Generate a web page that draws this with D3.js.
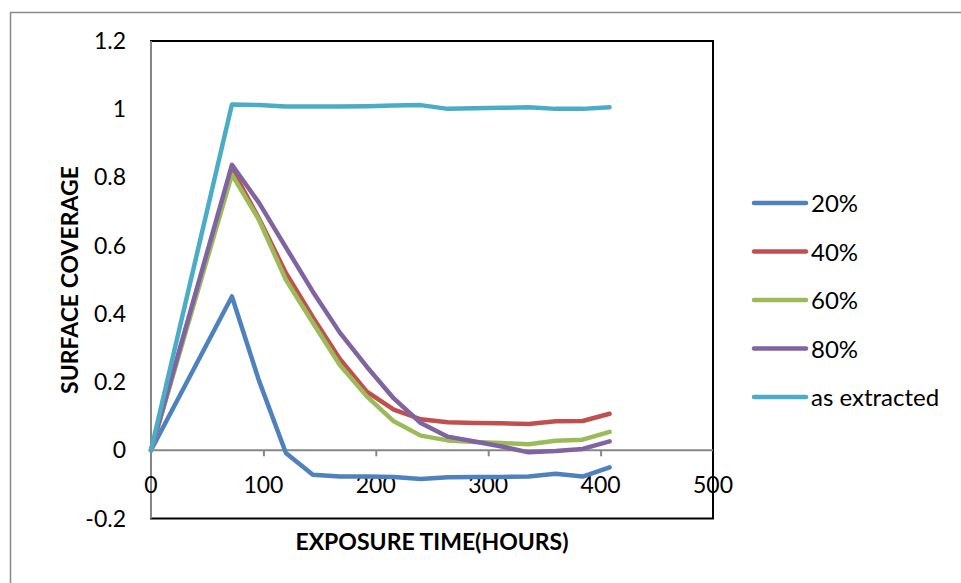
<!DOCTYPE html>
<html>
<head>
<meta charset="utf-8">
<script src="https://cdn.jsdelivr.net/npm/d3@7"></script>
<style>
  html, body { margin: 0; padding: 0; background: #fff; }
  svg { display: block; }
  text { font-family: Lato, "Open Sans", sans-serif; }
</style>
</head>
<body>
<svg id="chart" width="961" height="583"></svg>
<script>
// ---- data ----
const hours = [0, 72, 96, 120, 144, 168, 192, 216, 240, 264, 288, 312, 336, 360, 384, 408];
const s20 = [0, 0.451, 0.205, -0.008, -0.072, -0.077, -0.077, -0.078, -0.084, -0.079, -0.078, -0.078, -0.077, -0.069, -0.077, -0.050];
const s40 = [0, 0.825, 0.680, 0.520, 0.390, 0.268, 0.172, 0.119, 0.091, 0.082, 0.080, 0.079, 0.077, 0.085, 0.086, 0.107];
const s60 = [0, 0.808, 0.676, 0.500, 0.374, 0.250, 0.158, 0.085, 0.043, 0.029, 0.024, 0.021, 0.018, 0.028, 0.031, 0.054];
const s80 = [0, 0.837, 0.726, 0.595, 0.465, 0.345, 0.245, 0.152, 0.080, 0.040, 0.026, 0.011, -0.006, -0.002, 0.004, 0.026];
const sExtracted = [0, 1.014, 1.012, 1.008, 1.008, 1.008, 1.009, 1.011, 1.012, 1.001, 1.003, 1.004, 1.006, 1.001, 1.001, 1.006];
const seriesNames = ["20%", "40%", "60%", "80%", "as extracted"];
const seriesColors = ["#4F81BD", "#C0504D", "#9BBB59", "#8064A2", "#4BACC6"];
const xTicks = [0, 100, 200, 300, 400, 500];
const yTicks = [-0.2, 0, 0.2, 0.4, 0.6, 0.8, 1, 1.2];
const yTickLabels = ["-0.2", "0", "0.2", "0.4", "0.6", "0.8", "1", "1.2"];
const xTitle = "EXPOSURE TIME(HOURS)";
const yTitle = "SURFACE COVERAGE";

const seriesValues = [s20, s40, s60, s80, sExtracted];

// ---- layout ----
const svg = d3.select("#chart");
const plot = { left: 151, right: 713, top: 41, bottom: 518.5 };

const x = d3.scaleLinear().domain([0, 500]).range([plot.left, plot.right]);
const y = d3.scaleLinear().domain([-0.2, 1.2]).range([plot.bottom, plot.top]);

// outer chart border
svg.append("rect")
  .attr("x", 10.5).attr("y", 12.5).attr("width", 1000).attr("height", 1000)
  .attr("fill", "none").attr("stroke", "#8a8a8a").attr("stroke-width", 1.5);

// plot area border (black)
svg.append("rect")
  .attr("x", plot.left).attr("y", plot.top)
  .attr("width", plot.right - plot.left).attr("height", plot.bottom - plot.top)
  .attr("fill", "none").attr("stroke", "#000").attr("stroke-width", 2);

// y axis line (grey)
svg.append("line")
  .attr("x1", plot.left).attr("x2", plot.left)
  .attr("y1", plot.top).attr("y2", plot.bottom)
  .attr("stroke", "#868686").attr("stroke-width", 2);

// x axis at y=0
const xAxis = d3.axisBottom(x).tickValues(xTicks.filter(d => d > 0 && d < 500)).tickSize(6).tickFormat("");
const xg = svg.append("g").attr("transform", `translate(0,${y(0)})`).call(xAxis);
xg.select(".domain").attr("stroke", "#868686").attr("stroke-width", 2)
  .attr("d", `M${plot.left},0H${plot.right}`);
xg.selectAll(".tick line").attr("stroke", "#868686").attr("stroke-width", 2);

// x tick labels
svg.append("g").selectAll("text").data(xTicks).join("text")
  .attr("x", d => x(d)).attr("y", y(0) + 43)
  .attr("text-anchor", "middle").attr("font-size", 23).attr("fill", "#000")
  .text(d => d);

// y tick labels
svg.append("g").selectAll("text").data(yTicks).join("text")
  .attr("x", 126).attr("y", d => y(d) + 8)
  .attr("text-anchor", "end").attr("font-size", 23).attr("fill", "#000")
  .text((d, i) => yTickLabels[i]);

// lines
const line = d3.line().x((d, i) => x(hours[i])).y(d => y(d));
svg.append("g").selectAll("path").data(seriesValues).join("path")
  .attr("d", d => line(d))
  .attr("fill", "none")
  .attr("stroke", (d, i) => seriesColors[i])
  .attr("stroke-width", 4.5)
  .attr("stroke-linejoin", "round")
  .attr("stroke-linecap", "round");

// legend
const lg = svg.append("g");
const ly0 = 203, lstep = 48.5;
seriesNames.forEach((name, i) => {
  const yy = ly0 + i * lstep;
  lg.append("line").attr("x1", 754).attr("x2", 806).attr("y1", yy).attr("y2", yy)
    .attr("stroke", seriesColors[i]).attr("stroke-width", 4.5).attr("stroke-linecap", "round");
  lg.append("text").attr("x", 811).attr("y", yy + 9).attr("font-size", 24).attr("fill", "#000").text(name);
});

// axis titles
svg.append("text")
  .attr("x", 432).attr("y", 550)
  .attr("text-anchor", "middle").attr("font-size", 23).attr("font-weight", "bold").attr("fill", "#000")
  .text(xTitle);
svg.append("text")
  .attr("transform", `translate(78,280) rotate(-90)`)
  .attr("text-anchor", "middle").attr("font-size", 23).attr("font-weight", "bold").attr("fill", "#000")
  .text(yTitle);
</script>
</body>
</html>
